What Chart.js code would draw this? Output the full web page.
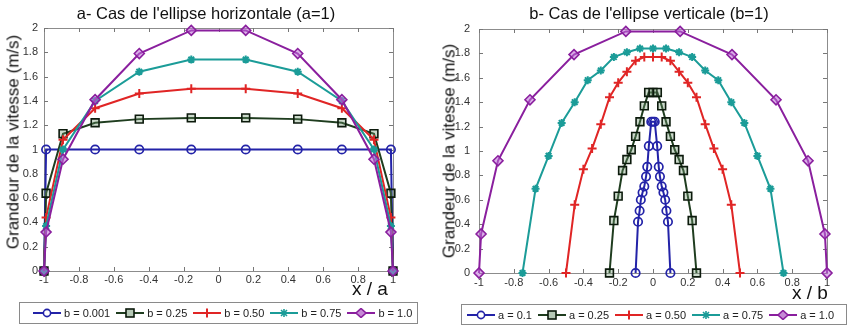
<!DOCTYPE html>
<html><head><meta charset="utf-8">
<script src="https://cdn.jsdelivr.net/npm/chart.js@4.4.1/dist/chart.umd.min.js"></script>
<style>
html,body{margin:0;padding:0;background:#fff;}
body{width:847px;height:326px;position:relative;overflow:hidden;font-family:'Liberation Sans',Arial,sans-serif;color:#111;}
canvas{position:absolute;top:0;}
.title{position:absolute;top:4px;font-size:16.5px;line-height:19px;white-space:nowrap;transform:translateX(-50%);}
.ylab{position:absolute;font-size:17px;line-height:17px;white-space:nowrap;transform:translate(-50%,-50%) rotate(-90deg);}
.xlab{position:absolute;font-size:19px;line-height:19px;white-space:nowrap;}
.legend{position:absolute;border:1px solid #8a8a8a;box-sizing:border-box;display:flex;align-items:center;font-size:11px;background:#fff;color:#222;overflow:hidden;}
.item{display:flex;align-items:center;margin-right:6px;white-space:nowrap;}
.item svg{margin-right:3px;}
</style></head>
<body>
<canvas id="c1" width="420" height="326" style="left:0"></canvas>
<canvas id="c2" width="427" height="326" style="left:420px"></canvas>
<div class="title" style="left:206px">a- Cas de l'ellipse horizontale (a=1)</div>
<div class="title" style="left:649px">b- Cas de l'ellipse verticale (b=1)</div>
<div class="ylab" style="left:13px;top:142px">Grandeur de la vitesse (m/s)</div>
<div class="ylab" style="left:449px;top:151px">Grandeur de la vitesse (m/s)</div>
<div class="xlab" style="left:352px;top:279px">x / a</div>
<div class="xlab" style="left:792px;top:283px">x / b</div>
<div class="legend" id="lg1" style="left:19px;top:302px;width:399px;height:22px;padding-left:13px"></div>
<div class="legend" id="lg2" style="left:461px;top:304px;width:386px;height:21px;padding-left:5px"></div>
<script>
// ---------- tick labels ----------
const tickX = [-1, -0.8, -0.6, -0.4, -0.2, 0, 0.2, 0.4, 0.6, 0.8, 1];
const tickY = [0, 0.2, 0.4, 0.6, 0.8, 1, 1.2, 1.4, 1.6, 1.8, 2];

// ---------- panel a (horizontal ellipse, a=1) ----------
const labelsA = ['b = 0.001', 'b = 0.25', 'b = 0.50', 'b = 0.75', 'b = 1.0'];
const xA_b0001 = [-1, -0.988, -0.707, -0.454, -0.156, 0.156, 0.454, 0.707, 0.988, 1];
const xA = [-1, -0.988, -0.891, -0.707, -0.454, -0.156, 0.156, 0.454, 0.707, 0.891, 0.988, 1];
const vb0001 = [0, 1, 1, 1, 1, 1, 1, 1, 1, 0];
const vb025 = [0, 0.64, 1.13, 1.22, 1.25, 1.26, 1.26, 1.25, 1.22, 1.13, 0.64, 0];
const vb050 = [0, 0.44, 1.08, 1.34, 1.46, 1.50, 1.50, 1.46, 1.34, 1.08, 0.44, 0];
const vb075 = [0, 0.37, 1.00, 1.40, 1.64, 1.74, 1.74, 1.64, 1.40, 1.00, 0.37, 0];
const vb100 = [0, 0.32, 0.92, 1.41, 1.79, 1.98, 1.98, 1.79, 1.41, 0.92, 0.32, 0];

// ---------- panel b (vertical ellipse, b=1) ----------
const labelsB = ['a = 0.1', 'a = 0.25', 'a = 0.50', 'a = 0.75', 'a = 1.0'];
const xB_a01 = [-0.1, -0.086, -0.077, -0.07, -0.06, -0.05, -0.04, -0.033, -0.024, -0.01, 0, 0.01, 0.024, 0.033, 0.04, 0.05, 0.06, 0.07, 0.077, 0.086, 0.1];
const va01 = [0, 0.42, 0.51, 0.60, 0.66, 0.71, 0.79, 0.87, 1.04, 1.24, 1.24, 1.24, 1.04, 0.87, 0.79, 0.71, 0.66, 0.60, 0.51, 0.42, 0];
const xB_a025 = [-0.25, -0.225, -0.2, -0.175, -0.15, -0.125, -0.1, -0.075, -0.05, -0.025, 0, 0.025, 0.05, 0.075, 0.1, 0.125, 0.15, 0.175, 0.2, 0.225, 0.25];
const va025 = [0, 0.43, 0.63, 0.84, 0.93, 1.01, 1.12, 1.24, 1.37, 1.48, 1.48, 1.48, 1.37, 1.24, 1.12, 1.01, 0.93, 0.84, 0.63, 0.43, 0];
const xB_a050 = [-0.5, -0.45, -0.4, -0.35, -0.3, -0.25, -0.2, -0.15, -0.1, -0.05, 0, 0.05, 0.1, 0.15, 0.2, 0.25, 0.3, 0.35, 0.4, 0.45, 0.5];
const va050 = [0, 0.56, 0.85, 1.02, 1.22, 1.44, 1.56, 1.65, 1.74, 1.77, 1.77, 1.77, 1.74, 1.65, 1.56, 1.44, 1.22, 1.02, 0.85, 0.56, 0];
const xB_a075 = [-0.75, -0.675, -0.6, -0.525, -0.45, -0.375, -0.3, -0.225, -0.15, -0.075, 0, 0.075, 0.15, 0.225, 0.3, 0.375, 0.45, 0.525, 0.6, 0.675, 0.75];
const va075 = [0, 0.69, 0.96, 1.23, 1.40, 1.58, 1.66, 1.77, 1.81, 1.84, 1.84, 1.84, 1.81, 1.77, 1.66, 1.58, 1.40, 1.23, 0.96, 0.69, 0];
const xB_a100 = [-1, -0.988, -0.891, -0.707, -0.454, -0.156, 0.156, 0.454, 0.707, 0.891, 0.988, 1];
const va100 = [0, 0.32, 0.92, 1.42, 1.79, 1.98, 1.98, 1.79, 1.42, 0.92, 0.32, 0];

// ---------- styles ----------
const styles = [
  {color:'#2323a8', pt:'circle',  r:4.2, fill:'rgba(0,0,0,0)',          edge:'#2323a8', bw:1.7},
  {color:'#1f3d1f', pt:'rect',    r:5.5, fill:'rgba(110,150,110,0.35)', edge:'#0c1a0c', bw:1.6},
  {color:'#e02525', pt:'cross',   r:4.5, fill:'rgba(0,0,0,0)',          edge:'#e02525', bw:2},
  {color:'#1b9c98', pt:'star',    r:4,   fill:'rgba(0,0,0,0)',          edge:'#1b9c98', bw:2},
  {color:'#8a1f9e', pt:'rectRot', r:5,   fill:'rgba(190,110,215,0.55)', edge:'#8a1f9e', bw:1.6}
];

function mk(xs, ys, i, label){
  const s = styles[i];
  return {
    label, data: xs.map((x,k)=>({x, y: ys[k]})),
    borderColor: s.color, backgroundColor: s.fill, borderWidth: 2,
    pointStyle: s.pt, pointRadius: s.r, pointBorderColor: s.edge,
    pointBackgroundColor: s.fill, pointBorderWidth: s.bw,
    tension: 0, clip: false, order: 4 - i
  };
}

const fmt = v => String(+(+v).toFixed(1));
const tickFont = {family:"'Liberation Sans', Arial, sans-serif", size:11};

const framePlugin = {
  id:'frame',
  beforeDatasetsDraw(chart){
    const {ctx, chartArea:a, scales} = chart;
    ctx.save();
    ctx.strokeStyle = '#8c8c8c'; ctx.lineWidth = 1;
    ctx.strokeRect(Math.round(a.left)+0.5, Math.round(a.top)+0.5, Math.round(a.right-a.left), Math.round(a.bottom-a.top));
    ctx.strokeStyle = '#777';
    ctx.beginPath();
    tickX.forEach(v=>{
      const px = Math.round(scales.x.getPixelForValue(v))+0.5;
      ctx.moveTo(px, a.bottom); ctx.lineTo(px, a.bottom-4);
      ctx.moveTo(px, a.top); ctx.lineTo(px, a.top+4);
    });
    tickY.forEach(v=>{
      const py = Math.round(scales.y.getPixelForValue(v))+0.5;
      ctx.moveTo(a.left, py); ctx.lineTo(a.left+4, py);
      ctx.moveTo(a.right, py); ctx.lineTo(a.right-4, py);
    });
    ctx.stroke();
    ctx.restore();
  }
};

function makeChart(id, datasets, pad, yWidth, yPad, xPad){
  return new Chart(document.getElementById(id), {
    type:'line',
    data:{datasets},
    options:{
      responsive:false, animation:false, events:[],
      layout:{padding:pad},
      plugins:{legend:{display:false}, tooltip:{enabled:false}, title:{display:false}},
      scales:{
        x:{type:'linear', min:-1, max:1,
           afterBuildTicks:s=>{s.ticks = tickX.map(v=>({value:v}));},
           afterFit:s=>{s.height = 20;},
           ticks:{callback:fmt, font:tickFont, color:'#333', padding:xPad, maxRotation:0, autoSkip:false},
           grid:{display:false, drawTicks:false}, border:{display:false}},
        y:{type:'linear', min:0, max:2,
           afterBuildTicks:s=>{s.ticks = tickY.map(v=>({value:v}));},
           afterFit:s=>{s.width = yWidth;},
           ticks:{callback:fmt, font:tickFont, color:'#333', padding:yPad, autoSkip:false},
           grid:{display:false, drawTicks:false}, border:{display:false}}
      }
    },
    plugins:[framePlugin]
  });
}

makeChart('c1', [
  mk(xA_b0001, vb0001, 0, labelsA[0]),
  mk(xA, vb025, 1, labelsA[1]),
  mk(xA, vb050, 2, labelsA[2]),
  mk(xA, vb075, 3, labelsA[3]),
  mk(xA, vb100, 4, labelsA[4])
], {left:0, right:27, top:28, bottom:35}, 44, 6, 2);

makeChart('c2', [
  mk(xB_a01, va01, 0, labelsB[0]),
  mk(xB_a025, va025, 1, labelsB[1]),
  mk(xB_a050, va050, 2, labelsB[2]),
  mk(xB_a075, va075, 3, labelsB[3]),
  mk(xB_a100, va100, 4, labelsB[4])
], {left:29, right:20, top:29, bottom:33}, 30, 9, 3);

// ---------- legends ----------
function markerSvg(s){
  const c = 14;
  let shape = '';
  if (s.pt==='circle') shape = `<circle cx="${c}" cy="5" r="3.6" fill="#fff" stroke="${s.edge}" stroke-width="1.6"/>`;
  if (s.pt==='rect') shape = `<rect x="${c-4}" y="1" width="8" height="8" fill="#b6c9b6" stroke="${s.edge}" stroke-width="1.6"/>`;
  if (s.pt==='cross') shape = `<path d="M${c-4.5} 5H${c+4.5}M${c} 0.5V9.5" stroke="${s.edge}" stroke-width="2"/>`;
  if (s.pt==='star') shape = `<path d="M${c-4} 5H${c+4}M${c} 1V9M${c-3} 2L${c+3} 8M${c+3} 2L${c-3} 8" stroke="${s.edge}" stroke-width="1.6"/>`;
  if (s.pt==='rectRot') shape = `<path d="M${c} 0.5L${c+5} 5L${c} 9.5L${c-5} 5Z" fill="#c68ad6" stroke="${s.edge}" stroke-width="1.6"/>`;
  return `<svg width="28" height="10" viewBox="0 0 28 10"><line x1="0" y1="5" x2="28" y2="5" stroke="${s.color}" stroke-width="2"/>${shape}</svg>`;
}
function buildLegend(id, labels){
  const el = document.getElementById(id);
  el.innerHTML = labels.map((l,i)=>`<span class="item">${markerSvg(styles[i])}<span>${l}</span></span>`).join('');
}
buildLegend('lg1', labelsA);
buildLegend('lg2', labelsB);
</script>
</body></html>
